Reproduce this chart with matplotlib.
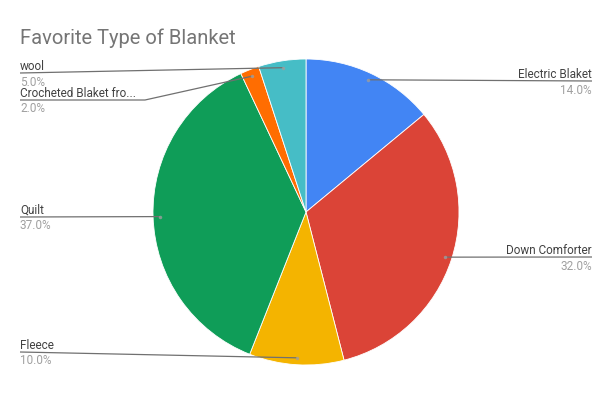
import matplotlib.pyplot as plt
import numpy as np

plt.rcParams['font.family'] = ['Roboto', 'DejaVu Sans']

labels = ['Electric Blaket', 'Down Comforter', 'Fleece', 'Quilt',
          'Crocheted Blaket fro...', 'wool']
values = [14.0, 32.0, 10.0, 37.0, 2.0, 5.0]
colors = ['#4285F4', '#DB4437', '#F4B400', '#0F9D58', '#FF6D01', '#46BDC6']

W, H = 611, 410
fig = plt.figure(figsize=(W / 100, H / 100), dpi=100)
ax = fig.add_axes([0, 0, 1, 1])

cx, cy, R = 306, H - 213, 153
wedges, _ = ax.pie(values, colors=colors, startangle=90, counterclock=False,
                   center=(cx, cy), radius=R, frame=True,
                   wedgeprops=dict(edgecolor='white', linewidth=0.6))
ax.set_xlim(0, W)
ax.set_ylim(0, H)
ax.set_aspect('equal')
ax.axis('off')

fig.text(20 / W, 1 - 38.5 / H, 'Favorite Type of Blanket', fontsize=14.5,
         color='#757575', va='center', ha='left')

# label layout: side and line points starting at the text end (pixels from top)
layout = {
    'Electric Blaket': ('right', [(592, 82)]),
    'Down Comforter': ('right', [(592, 258)]),
    'Fleece': ('left', [(20, 353)]),
    'Quilt': ('left', [(20, 218)]),
    'Crocheted Blaket fro...': ('left', [(20, 101), (145, 101)]),
    'wool': ('left', [(20, 74)]),
}

for w, lab, val in zip(wedges, labels, values):
    mid = np.deg2rad((w.theta1 + w.theta2) / 2)
    dx = cx + 0.955 * R * np.cos(mid)
    dy = cy + 0.955 * R * np.sin(mid)
    side, pts = layout[lab]
    xs = [p[0] for p in pts] + [dx]
    ys = [H - p[1] for p in pts] + [dy]
    ax.plot(xs, ys, color='#707070', lw=0.9, solid_capstyle='butt', zorder=3)
    ax.plot(dx, dy, 'o', ms=2.5, color='#9e9e9e', mec='none', zorder=4, alpha=0.8)
    tx, ty = pts[0][0], H - pts[0][1]
    ha = 'right' if side == 'right' else 'left'
    ax.text(tx, ty + 1, lab, fontsize=8.5, color='#424242', ha=ha, va='bottom')
    ax.text(tx, ty - 1.5, f'{val:.1f}%', fontsize=8.5, color='#a0a0a0', ha=ha, va='top')

fig.savefig('out.png', dpi=100)
